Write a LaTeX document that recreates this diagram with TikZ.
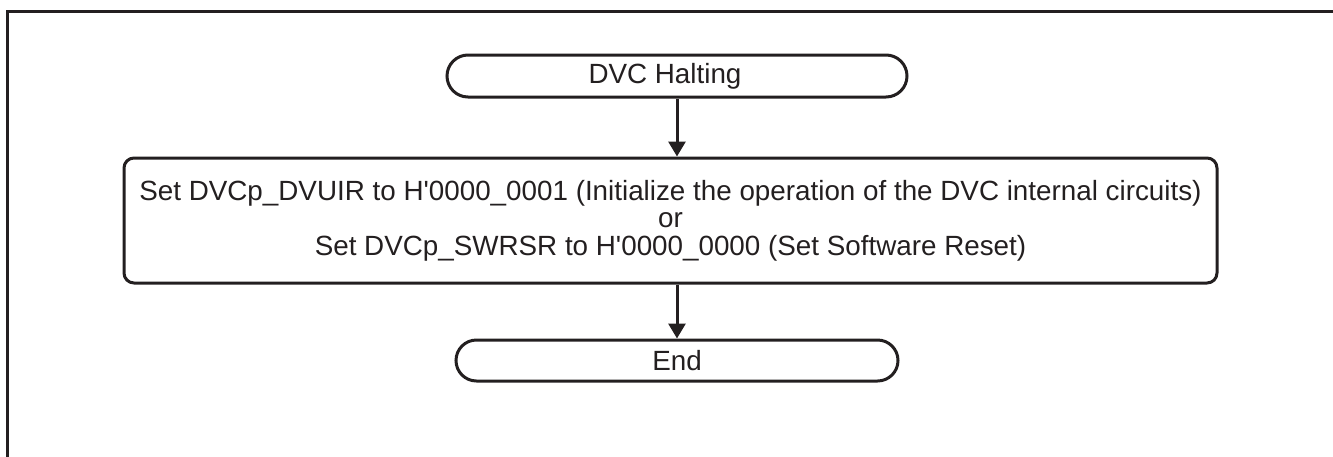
\documentclass[tikz,border=0pt]{standalone}
\usepackage{fontspec}
\setmainfont{Liberation Sans}
\usetikzlibrary{shapes.misc,arrows.meta}
\definecolor{ink}{HTML}{231F20}
\begin{document}
\begin{tikzpicture}[x=1pt,y=-1pt,
  txt/.style={font=\fontsize{27.8}{27.5}\selectfont, text=ink},
  term/.style={rounded rectangle, draw=ink, line width=3pt, minimum height=42pt, inner sep=0pt, txt},
  procbox/.style={rectangle, rounded corners=10pt, draw=ink, line width=3pt, minimum width=1093pt, minimum height=125pt, inner sep=0pt, align=center, txt},
  flow/.style={draw=ink, line width=3pt, -{Triangle[length=15pt,width=17pt]}}]
\useasboundingbox (0,0) rectangle (1333,456);
\begin{scope}
\clip (0,0) rectangle (1333,456);
\draw[ink, line width=3pt] (7,11) rectangle (1345,470);
\end{scope}
\node[term, minimum width=460pt] (start) at (677,76) {\hspace*{-24pt}DVC Halting};
\node[procbox] (proc) at (670.5,220.5) {Set DVCp\_DVUIR to H\textquotesingle 0000\_0001 (Initialize the operation of the DVC internal circuits)\\or\\Set DVCp\_SWRSR to H\textquotesingle 0000\_0000 (Set Software Reset)};
\node[term, minimum width=442pt, minimum height=41pt] (stop) at (677,360.5) {End};
\draw[flow] (start.south) -- (start.south |- proc.north);
\draw[flow] (proc.south -| start.south) -- (stop.north);
\end{tikzpicture}
\end{document}
